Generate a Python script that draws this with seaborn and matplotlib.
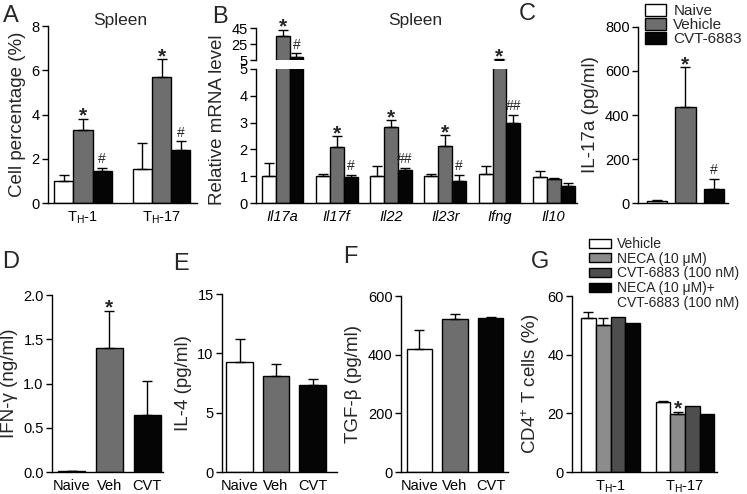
import numpy as np
import pandas as pd
import matplotlib.pyplot as plt
from matplotlib.patches import Patch
import seaborn as sns

sns.set_style('ticks')
plt.rcParams['font.family'] = ['Liberation Sans', 'DejaVu Sans']
plt.rcParams['mathtext.fontset'] = 'custom'
plt.rcParams['mathtext.rm'] = 'Liberation Sans'
plt.rcParams['mathtext.it'] = 'Liberation Sans:italic'

# ---- data (mean, SEM, significance marks) ----
treat3 = ['Naive', 'Vehicle', 'CVT-6883']
colors3 = ['#ffffff', '#6e6e6e', '#050505']

# A: spleen Th cell percentages
th_groups = ['T$_{\\rm H}$-1', 'T$_{\\rm H}$-17']
a_naive, a_naive_sem = [1.0, 1.55], [0.25, 1.15]
a_veh, a_veh_sem = [3.3, 5.7], [0.5, 0.8]
a_cvt, a_cvt_sem = [1.45, 2.4], [0.15, 0.4]
a_marks = [['', ''], ['*', '*'], ['#', '#']]

# B: relative mRNA level
genes = ['Il17a', 'Il17f', 'Il22', 'Il23r', 'Ifng', 'Il10']
b_naive = [1.0, 1.0, 1.0, 1.0, 1.07, 0.97]
b_naive_sem = [0.5, 0.1, 0.38, 0.1, 0.31, 0.23]
b_veh = [35.4, 2.1, 2.83, 2.12, 5.4, 0.88]
b_veh_sem = [7.4, 0.4, 0.25, 0.41, 0.3, 0.04]
b_cvt = [8.4, 0.97, 1.23, 0.83, 3.0, 0.63]
b_cvt_sem = [5.1, 0.08, 0.09, 0.23, 0.3, 0.1]
b_marks = [['', '', '', '', '', ''],
           ['*', '*', '*', '*', '*', ''],
           ['#', '#', '##', '#', '##', '']]

# C: IL-17a (pg/ml)
c_vals, c_sem, c_marks = [10, 435, 65], [3, 183, 45], ['', '*', '#']

# D-F: cytokines
short3 = ['Naive', 'Veh', 'CVT']
d_vals, d_sem, d_marks = [0.01, 1.4, 0.64], [0.005, 0.42, 0.39], ['', '*', '']
e_vals, e_sem = [9.25, 8.1, 7.3], [1.95, 1.0, 0.5]
f_vals, f_sem = [421, 521, 524], [62, 18, 4]

# G: in vitro CD4+ T cells
g_treat = ['Vehicle', 'NECA (10 μM)', 'CVT-6883 (100 nM)', 'NECA (10 μM)+']
g_colors = ['#ffffff', '#8c8c8c', '#4e4e4e', '#050505']
g_vals = [[52.4, 23.8], [50.1, 19.7], [52.9, 22.6], [50.7, 19.8]]
g_sem = [[2.3, 0.5], [2.3, 0.8], [np.nan, np.nan], [np.nan, np.nan]]
g_marks = [['', ''], ['', '*'], ['', ''], ['', '']]

W, H = 747, 494
fig = plt.figure(figsize=(W / 100, H / 100), dpi=100)


def box(l, t, r, b):
    return fig.add_axes([l / W, 1 - b / H, (r - l) / W, (b - t) / H])


def frame(cats, hues, vals, sems, marks):
    rows = []
    for hi, h in enumerate(hues):
        for ci, c in enumerate(cats):
            rows.append(dict(cat=c, grp=h, val=vals[hi][ci],
                             sem=sems[hi][ci], mark=marks[hi][ci]))
    return pd.DataFrame(rows)


def draw(ax, df, cats, hues, colors, width, hue='grp', lo=-np.inf):
    sns.barplot(data=df, x='cat', y='val', hue=hue, order=cats, hue_order=hues,
                palette=colors, width=width, edgecolor='black', linewidth=1,
                errorbar=None, saturation=1, legend=False, ax=ax)
    cx = np.array([p.get_x() + p.get_width() / 2 for p in ax.patches])
    # only the error bars that reach into this axis' range
    ok = (df['sem'].notna() & (df['val'] + df['sem'].fillna(0) > lo)).values
    ax.errorbar(cx[ok], df['val'].values[ok],
                yerr=[np.zeros(ok.sum()), df['sem'].values[ok]],
                fmt='none', ecolor='black', elinewidth=1, capsize=3.5,
                capthick=1, zorder=3)
    return cx


def annotate(ax, df, cx, lo=-np.inf, hi=np.inf):
    for i, r in df.reset_index(drop=True).iterrows():
        if not r['mark']:
            continue
        top = r['val'] + (0 if np.isnan(r['sem']) else r['sem'])
        if not (lo <= top <= hi):
            continue
        if '*' in r['mark']:
            ax.annotate('*', (cx[i], top), xytext=(0, -5), textcoords='offset points',
                        ha='center', va='bottom', fontsize=15, fontweight='bold',
                        annotation_clip=False)
        else:
            ax.annotate(r['mark'], (cx[i], top), xytext=(0, 1), textcoords='offset points',
                        ha='center', va='bottom', fontsize=10, annotation_clip=False)


def style(ax, xlim, ylim, yticks, labels, ylabel, fs=10.5, pad=4):
    ax.set_xlim(xlim)
    ax.set_ylim(ylim)
    ax.set_yticks(yticks)
    ax.set_xticks(range(len(labels)))
    ax.set_xticklabels(labels, fontsize=fs)
    ax.tick_params(axis='x', length=0, pad=5, colors='black')
    ax.tick_params(axis='y', length=4, width=1, labelsize=10.5, pad=2, colors='black')
    sns.despine(ax=ax)
    for s in ax.spines.values():
        s.set_linewidth(1)
        s.set_color('black')
    ax.set_xlabel('')
    ax.set_ylabel(ylabel, fontsize=13.5, labelpad=pad)


# ---- A ----
axA = box(48, 26, 197, 203)
dfA = frame(th_groups, treat3, [a_naive, a_veh, a_cvt],
            [a_naive_sem, a_veh_sem, a_cvt_sem], a_marks)
cx = draw(axA, dfA, th_groups, treat3, colors3, 0.73)
annotate(axA, dfA, cx)
style(axA, (-0.446, 1.452), (0, 8), [0, 2, 4, 6, 8], th_groups, 'Cell percentage (%)')

# ---- B (broken axis) ----
dfB = frame(genes, treat3, [b_naive, b_veh, b_cvt],
            [b_naive_sem, b_veh_sem, b_cvt_sem], b_marks)
axB = box(256, 69, 577, 203)
cx = draw(axB, dfB, genes, treat3, colors3, 0.77)
annotate(axB, dfB, cx, hi=5)
style(axB, (-0.49, 5.43), (0, 5), [0, 1, 2, 3, 4, 5], genes, 'Relative mRNA level')
for t in axB.get_xticklabels():
    t.set_fontstyle('italic')
axB.yaxis.set_label_coords(-0.095, 0.62)

axBt = box(256, 28, 577, 60)
cx = draw(axBt, dfB, genes, treat3, colors3, 0.77, lo=5)
annotate(axBt, dfB, cx, lo=5)
style(axBt, (-0.49, 5.43), (5, 45), [5, 25, 45], genes, '')
axBt.spines['bottom'].set_visible(False)
axBt.set_xticks([])

# ---- C ----
axC = box(638, 27, 728, 203)
dfC = pd.DataFrame(dict(cat=treat3, val=c_vals, sem=c_sem, mark=c_marks))
cx = draw(axC, dfC, treat3, treat3, colors3, 0.72, hue='cat')
annotate(axC, dfC, cx)
style(axC, (-0.66, 2.5), (0, 800), [0, 200, 400, 600, 800], ['', '', ''], 'IL-17a (pg/ml)')
axC.legend([Patch(facecolor=c, edgecolor='black', lw=1) for c in colors3], treat3,
           loc='upper left', bbox_to_anchor=(645 / W, 1 - 4 / H), bbox_transform=fig.transFigure,
           frameon=False, fontsize=11, handlelength=1.35, handleheight=0.8,
           labelspacing=0.0, handletextpad=0.5, borderpad=0, borderaxespad=0)

# ---- D, E, F ----
for (l, r, t), vals, sems, marks, ylim, yt, lab, xl in [
        ((52, 163, 295), d_vals, d_sem, d_marks, (0, 2), [0, 0.5, 1.0, 1.5, 2.0],
         'IFN-γ (ng/ml)', (-0.52, 2.42)),
        ((222, 337, 294), e_vals, e_sem, ['', '', ''], (0, 15), [0, 5, 10, 15],
         'IL-4 (pg/ml)', (-0.48, 2.67)),
        ((401, 508, 296), f_vals, f_sem, ['', '', ''], (0, 600), [0, 200, 400, 600],
         'TGF-β (pg/ml)', (-0.52, 2.49))]:
    ax = box(l, t, r, 472)
    df = pd.DataFrame(dict(cat=short3, val=vals, sem=sems, mark=marks))
    cx = draw(ax, df, short3, short3, colors3, 0.72, hue='cat')
    annotate(ax, df, cx)
    style(ax, xl, ylim, yt, short3, lab)
    if lab.startswith('IFN'):
        ax.set_yticklabels(['0.0', '0.5', '1.0', '1.5', '2.0'])

# ---- G ----
axG = box(572, 296, 717, 472)
dfG = frame(th_groups, g_treat, g_vals, g_sem, g_marks)
cx = draw(axG, dfG, th_groups, g_treat, g_colors, 0.79)
annotate(axG, dfG, cx)
style(axG, (-0.517, 1.43), (0, 60), [0, 20, 40, 60], th_groups, 'CD4$^{+}$ T cells (%)')
handles = [Patch(facecolor=c, edgecolor='black', lw=1) for c in g_colors]
handles.append(Patch(facecolor='none', edgecolor='none'))
axG.legend(handles, g_treat + ['CVT-6883 (100 nM)'],
           loc='upper left', bbox_to_anchor=(589 / W, 1 - 237 / H), bbox_transform=fig.transFigure,
           frameon=False, fontsize=10, handlelength=1.6, handleheight=0.6,
           labelspacing=0.05, handletextpad=0.4, borderpad=0, borderaxespad=0)

# ---- panel letters and titles ----
for ch, x, y in [('A', 3, 5), ('B', 212, 6), ('C', 519, 3), ('D', 2, 251),
                 ('E', 173, 253), ('F', 343, 246), ('G', 531, 251)]:
    fig.text(x / W, 1 - y / H, ch, fontsize=17, va='top', ha='left')
for x in (120, 415):
    fig.text(x / W, 1 - 20 / H, 'Spleen', fontsize=12.5, va='center', ha='center')

fig.savefig('out.png', dpi=100)
